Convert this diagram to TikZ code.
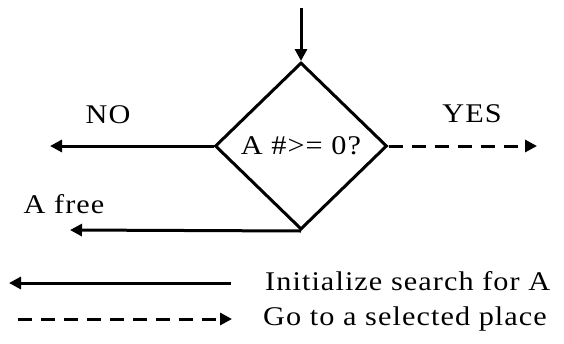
\documentclass[tikz,border=0pt]{standalone}
\usepackage{fontspec}
\setmainfont{Liberation Serif}[FakeStretch=1.12,LetterSpace=4]
\usetikzlibrary{arrows.meta,shapes.geometric}

\begin{document}
\begin{tikzpicture}[
  x=1pt, y=-1pt,
  every node/.style={font=\fontsize{27}{30}\selectfont, inner sep=0pt},
  test/.style={shape=diamond, draw, line width=3pt, aspect=1.03,
               minimum width=172pt, minimum height=167pt},
  lbl/.style={anchor=base},
  flow/.style={line width=3pt, -{Triangle[length=12pt,width=12pt]}},
  jump/.style={flow, dash pattern=on 14pt off 9pt}
]
  \useasboundingbox (0,0) rectangle (564,343);
  % decision
  \node[test] (check) at (301,146) {A \#>= 0?};
  \coordinate (entry) at (301,8);
  \coordinate (noend) at (50,146);
  \coordinate (yesend) at (537,146);
  \coordinate (freeend) at (70,230);
  \draw[flow] (entry) -- (check.north);
  \draw[flow] (check.west) -- (noend);
  \draw[jump] (check.east) -- (yesend);
  \draw[flow] (check.south) -- (freeend);
  \node[lbl] (nolbl) at (108,123) {NO};
  \node[lbl] (yeslbl) at (472,122) {YES};
  \node[lbl] (freelbl) at (64,213) {A free};
  % legend
  \coordinate (inita) at (231,283);
  \coordinate (initb) at (9,283);
  \coordinate (gotoa) at (18,319);
  \coordinate (gotob) at (232,319);
  \draw[flow] (inita) -- (initb);
  \draw[jump] (gotoa) -- (gotob);
  \node[anchor=base west] (inittxt) at (265,290) {Initialize search for A};
  \node[anchor=base west] (gototxt) at (263,325) {Go to a selected place};
\end{tikzpicture}
\end{document}
